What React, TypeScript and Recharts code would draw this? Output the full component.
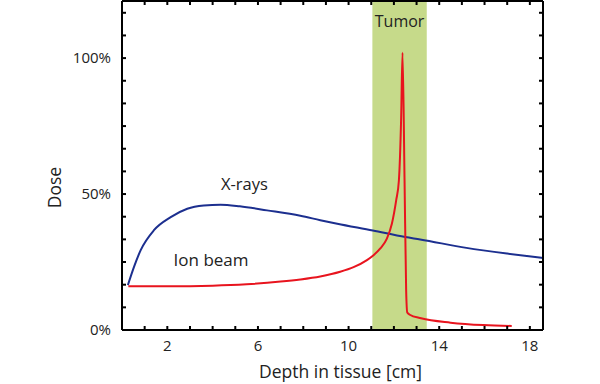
import React from "react";
import {
  LineChart,
  Line,
  XAxis,
  YAxis,
  ReferenceArea,
  ReferenceDot,
  Label,
} from "recharts";

const xrayDepth = [0.26, 0.53, 0.82, 1.41, 2.15, 2.88, 3.61, 4.35, 5.2, 6.4, 7.87, 8.75, 9.5, 11.07, 12.5, 13.16, 15.2, 17, 18.58];
const xrayDose = [16.5, 23.2, 29.3, 36.7, 41.5, 44.6, 45.8, 46.1, 45.5, 44, 42, 40.4, 39.1, 36.6, 34.2, 33.3, 30.2, 28.1, 26.5];

const ionDepth = [0.28, 2, 4, 5.5, 7, 7.87, 8.75, 9.63, 10.22, 10.81, 11.1, 11.4, 11.69, 11.91, 12.1, 12.22, 12.32, 12.38, 12.47, 12.54, 12.59, 12.7, 13.2, 14.5, 15.95, 17.2];
const ionDose = [16.1, 16.1, 16.3, 16.8, 17.8, 18.6, 19.7, 21.4, 23.1, 25.7, 27.5, 30, 33.6, 39.1, 47.7, 55, 78.2, 102, 55, 14.7, 6.4, 5.6, 4.3, 2.7, 1.8, 1.5];

const xTicks = [1, 2, 3, 4, 5, 6, 7, 8, 9, 10, 11, 12, 13, 14, 15, 16, 17, 18];
const xTickLabels = [2, 6, 10, 14, 18];
const yTicks = [0, 1, 2, 3, 4, 5, 6, 7, 8, 9, 10, 11, 12, 13, 14].map((k) => (k * 100) / 12);
const yTickLabels = [0, 50, 100];

const tumorStart = 11.05;
const tumorEnd = 13.45;

const xrayData = xrayDepth.map((d, i) => ({ depth: d, dose: xrayDose[i] }));
const ionData = ionDepth.map((d, i) => ({ depth: d, dose: ionDose[i] }));

const FONT = "'Open Sans', 'DejaVu Sans', sans-serif";
const TEXT = "#222";

const fmtX = (v: number) => (xTickLabels.some((t) => Math.abs(t - v) < 1e-6) ? String(v) : "");
const fmtY = (v: number) => {
  const m = yTickLabels.find((t) => Math.abs(t - v) < 1e-6);
  return m === undefined ? "" : `${m}%`;
};

export default function App() {
  return (
    <div style={{ position: "absolute", left: 0, top: 0, width: 600, height: 384, background: "#fff" }}>
      <LineChart
        width={600}
        height={384}
        margin={{ top: 0, right: 0, bottom: 0, left: 0 }}
        style={{ fontFamily: FONT }}
      >
        <XAxis
          xAxisId="bottom"
          dataKey="depth"
          type="number"
          domain={[0, 18.58]}
          ticks={xTicks}
          interval={0}
          allowDataOverflow
          height={54}
          tickSize={-4}
          tickMargin={14}
          tickFormatter={fmtX}
          axisLine={{ stroke: "#000", strokeWidth: 2 }}
          tickLine={{ stroke: "#000", strokeWidth: 2 }}
          tick={{ fill: TEXT, fontSize: 15, fontFamily: FONT }}
        >
          <Label value="Depth in tissue [cm]" position="center" dx={8} dy={15} style={{ fill: TEXT, fontSize: 17.5, fontFamily: FONT }} />
        </XAxis>
        <XAxis
          xAxisId="top"
          orientation="top"
          dataKey="depth"
          type="number"
          domain={[0, 18.58]}
          ticks={xTicks}
          interval={0}
          allowDataOverflow
          height={1}
          tickSize={-4}
          tickFormatter={() => ""}
          axisLine={{ stroke: "#000", strokeWidth: 2 }}
          tickLine={{ stroke: "#000", strokeWidth: 2 }}
        />
        <YAxis
          yAxisId="left"
          type="number"
          domain={[0, 121]}
          ticks={yTicks}
          interval={0}
          allowDataOverflow
          width={122}
          tickSize={-4}
          tickMargin={15}
          tickFormatter={fmtY}
          axisLine={{ stroke: "#000", strokeWidth: 2 }}
          tickLine={{ stroke: "#000", strokeWidth: 2 }}
          tick={{ fill: TEXT, fontSize: 15, fontFamily: FONT }}
        >
          <Label value="Dose" angle={-90} position="center" dx={-6} dy={22} style={{ fill: TEXT, fontSize: 17.5, fontFamily: FONT }} />
        </YAxis>
        <YAxis
          yAxisId="right"
          orientation="right"
          type="number"
          domain={[0, 121]}
          ticks={yTicks}
          interval={0}
          allowDataOverflow
          width={57}
          tickSize={-4}
          tickFormatter={() => ""}
          axisLine={{ stroke: "#000", strokeWidth: 2 }}
          tickLine={{ stroke: "#000", strokeWidth: 2 }}
        />
        <ReferenceArea
          xAxisId="bottom"
          yAxisId="left"
          x1={tumorStart}
          x2={tumorEnd}
          y1={0}
          y2={121}
          fill="#c6da8a"
          fillOpacity={1}
          stroke="none"
          ifOverflow="hidden"
        >
          <Label value="Tumor" position="insideTop" offset={15} style={{ fill: TEXT, fontSize: 16, fontFamily: FONT }} />
        </ReferenceArea>
        <ReferenceDot xAxisId="bottom" yAxisId="left" x={5.4} y={53.5} r={0} fill="none" stroke="none">
          <Label value="X-rays" position="center" style={{ fill: TEXT, fontSize: 16.5, fontFamily: FONT }} />
        </ReferenceDot>
        <ReferenceDot xAxisId="bottom" yAxisId="left" x={3.93} y={25.7} r={0} fill="none" stroke="none">
          <Label value="Ion beam" position="center" style={{ fill: TEXT, fontSize: 17, fontFamily: FONT }} />
        </ReferenceDot>
        <Line
          xAxisId="bottom"
          yAxisId="left"
          data={xrayData}
          dataKey="dose"
          type="monotone"
          stroke="#1c2f8f"
          strokeWidth={2}
          dot={false}
          isAnimationActive={false}
        />
        <Line
          xAxisId="bottom"
          yAxisId="left"
          data={ionData}
          dataKey="dose"
          type="monotone"
          stroke="#e8141e"
          strokeWidth={2}
          dot={false}
          isAnimationActive={false}
        />
      </LineChart>
    </div>
  );
}
